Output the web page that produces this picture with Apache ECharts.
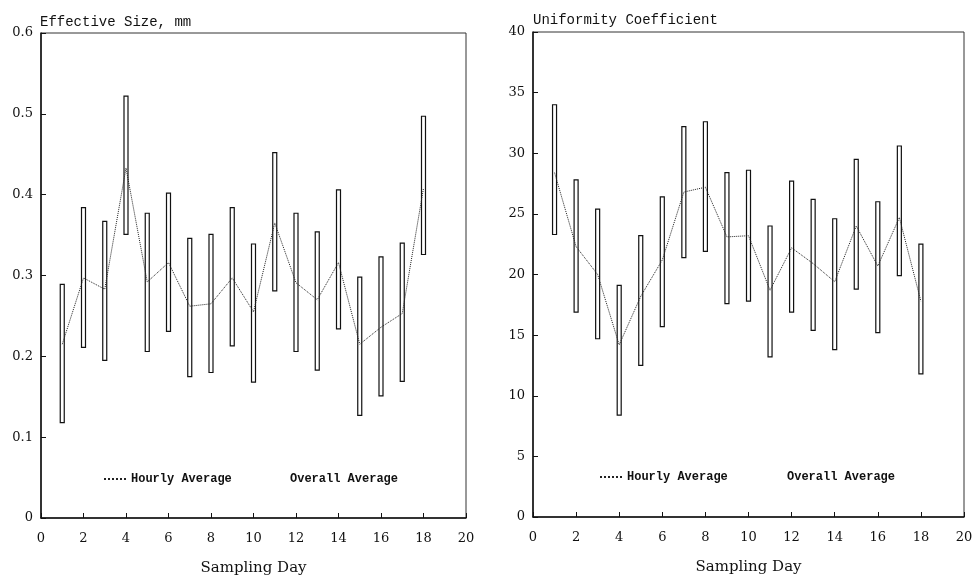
<!DOCTYPE html>
<html lang="en">

<head>
    <meta charset="UTF-8" />
    <title>Effective Size / Uniformity Coefficient</title>
    <style>
        html, body { margin: 0; padding: 0; background: #fff; }
        #chart { width: 976px; height: 576px; }
    </style>
</head>

<body>
    <div id="chart"></div>

    <script src="https://cdn.jsdelivr.net/npm/echarts@6/dist/echarts.min.js"></script>
    <script>
        // sampling days
        const days = [1, 2, 3, 4, 5, 6, 7, 8, 9, 10, 11, 12, 13, 14, 15, 16, 17, 18]

        // effective size, mm (range low / high, hourly average)
        const sizeLow = [0.118, 0.211, 0.195, 0.351, 0.206, 0.231, 0.175, 0.180, 0.213, 0.168, 0.281, 0.206, 0.183, 0.234, 0.127, 0.151, 0.169, 0.326]
        const sizeHigh = [0.289, 0.384, 0.367, 0.522, 0.377, 0.402, 0.346, 0.351, 0.384, 0.339, 0.452, 0.377, 0.354, 0.406, 0.298, 0.323, 0.340, 0.497]
        const sizeAvg = [0.215, 0.297, 0.283, 0.433, 0.292, 0.316, 0.262, 0.265, 0.297, 0.255, 0.365, 0.291, 0.270, 0.316, 0.215, 0.236, 0.253, 0.408]

        // uniformity coefficient (range low / high, hourly average)
        const ucLow = [23.3, 16.9, 14.7, 8.4, 12.5, 15.7, 21.4, 21.9, 17.6, 17.8, 13.2, 16.9, 15.4, 13.8, 18.8, 15.2, 19.9, 11.8]
        const ucHigh = [34.0, 27.8, 25.4, 19.1, 23.2, 26.4, 32.2, 32.6, 28.4, 28.6, 24.0, 27.7, 26.2, 24.6, 29.5, 26.0, 30.6, 22.5]
        const ucAvg = [28.4, 22.3, 20.0, 14.2, 18.2, 21.2, 26.8, 27.2, 23.1, 23.2, 18.7, 22.2, 20.9, 19.4, 24.0, 20.7, 24.7, 17.8]

        const font = 'DejaVu Serif'
        const mono = 'Liberation Mono'

        function rangeData (low, high) {
            return days.map((d, i) => [d, low[i], high[i]])
        }

        function avgData (avg) {
            return days.map((d, i) => [d, avg[i]])
        }

        // thin open box from low to high
        function renderRange (params, api) {
            const top = api.coord([api.value(0), api.value(2)])
            const bot = api.coord([api.value(0), api.value(1)])
            return {
                type: 'rect',
                shape: { x: top[0] - 2, y: top[1], width: 4, height: bot[1] - top[1] },
                style: { fill: '#fff', stroke: '#111', lineWidth: 1.2 }
            }
        }

        function xAxis (gridIndex) {
            return {
                gridIndex: gridIndex,
                type: 'value',
                min: 0,
                max: 20,
                interval: 2,
                name: 'Sampling Day',
                nameLocation: 'middle',
                nameGap: 43,
                nameTextStyle: { fontFamily: font, fontSize: 15, color: '#111' },
                axisLine: { lineStyle: { color: '#111', width: 1.5 } },
                axisTick: { inside: true, length: 5, lineStyle: { color: '#111' } },
                axisLabel: { fontFamily: font, fontSize: 13, color: '#111', margin: 14 },
                splitLine: { show: false }
            }
        }

        function yAxis (gridIndex, max, interval) {
            return {
                gridIndex: gridIndex,
                type: 'value',
                min: 0,
                max: max,
                interval: interval,
                axisLine: { show: true, lineStyle: { color: '#111', width: 1.5 } },
                axisTick: { show: true, inside: true, length: 5, lineStyle: { color: '#111' } },
                axisLabel: { fontFamily: font, fontSize: 13, color: '#111', margin: 8 },
                splitLine: { show: false }
            }
        }

        // one legend entry each, so they can sit where the original puts them
        function legend (left, top, name, visible) {
            return {
                left: left,
                top: top,
                orient: 'horizontal',
                itemWidth: 22,
                itemHeight: 8,
                itemGap: 0,
                selectedMode: false,
                textStyle: { fontFamily: mono, fontSize: 12, color: '#111', fontWeight: 'bold' },
                data: [visible
                    ? { name: name, itemStyle: { opacity: 0 } }
                    : { name: name, itemStyle: { opacity: 0 }, lineStyle: { opacity: 0 } }]
            }
        }

        const chart = echarts.init(document.getElementById('chart'))
        const option = {
            animation: false,
            backgroundColor: '#fff',
            title: [
                { text: 'Effective Size, mm', left: 35, top: 10, textStyle: { fontFamily: mono, fontSize: 14, fontWeight: 'normal', color: '#111' } },
                { text: 'Uniformity Coefficient', left: 528, top: 8, textStyle: { fontFamily: mono, fontSize: 14, fontWeight: 'normal', color: '#111' } }
            ],
            legend: [
                legend(98, 468, 'Hourly Average', true),
                legend(258, 468, 'Overall Average', false),
                legend(594, 466, 'Hourly Average', true),
                legend(755, 466, 'Overall Average', false)
            ],
            grid: [
                { left: 41, right: 510, top: 33, bottom: 58, show: true, borderColor: '#333', borderWidth: 1, outerBoundsMode: 'none', containLabel: false },
                { left: 533, right: 12, top: 32, bottom: 59, show: true, borderColor: '#333', borderWidth: 1, outerBoundsMode: 'none', containLabel: false }
            ],
            xAxis: [xAxis(0), xAxis(1)],
            yAxis: [yAxis(0, 0.6, 0.1), yAxis(1, 40, 5)],
            series: [
                {
                    type: 'custom',
                    xAxisIndex: 0,
                    yAxisIndex: 0,
                    renderItem: renderRange,
                    data: rangeData(sizeLow, sizeHigh),
                    z: 2
                },
                {
                    name: 'Hourly Average',
                    type: 'line',
                    xAxisIndex: 0,
                    yAxisIndex: 0,
                    symbol: 'none',
                    data: avgData(sizeAvg),
                    lineStyle: { color: '#222', width: 1, type: 'dotted' },
                    itemStyle: { color: '#222' },
                    z: 3
                },
                {
                    name: 'Overall Average',
                    type: 'line',
                    xAxisIndex: 0,
                    yAxisIndex: 0,
                    symbol: 'none',
                    data: [],
                    lineStyle: { color: '#fff', width: 0 }
                },
                {
                    type: 'custom',
                    xAxisIndex: 1,
                    yAxisIndex: 1,
                    renderItem: renderRange,
                    data: rangeData(ucLow, ucHigh),
                    z: 2
                },
                {
                    name: 'Hourly Average',
                    type: 'line',
                    xAxisIndex: 1,
                    yAxisIndex: 1,
                    symbol: 'none',
                    data: avgData(ucAvg),
                    lineStyle: { color: '#222', width: 1, type: 'dotted' },
                    itemStyle: { color: '#222' },
                    z: 3
                },
                {
                    name: 'Overall Average',
                    type: 'line',
                    xAxisIndex: 1,
                    yAxisIndex: 1,
                    symbol: 'none',
                    data: [],
                    lineStyle: { color: '#fff', width: 0 }
                }
            ]
        }
        chart.setOption(option)
    </script>
</body>

</html>
